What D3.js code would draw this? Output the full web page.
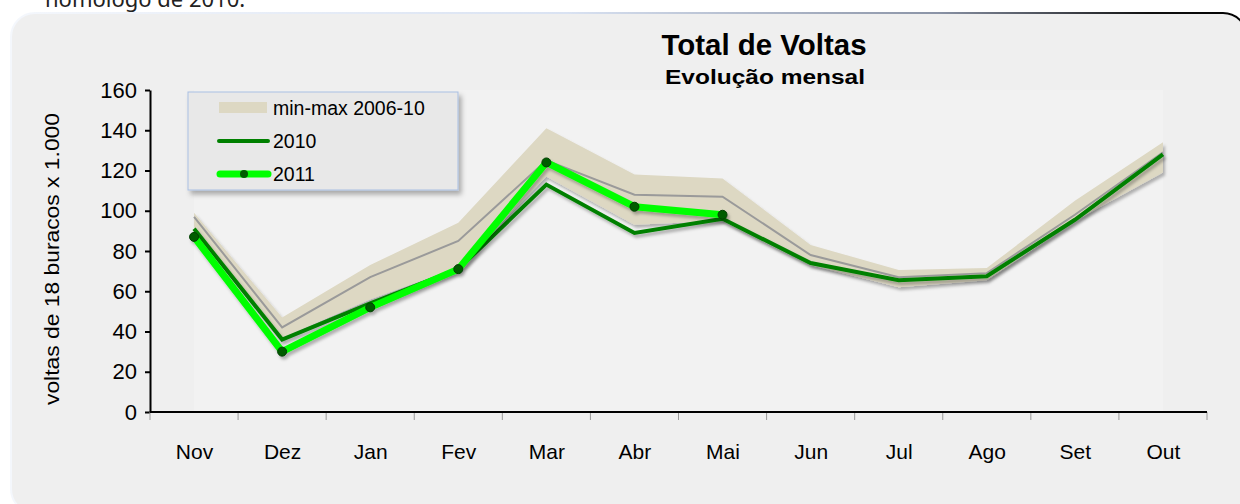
<!DOCTYPE html>
<html>
<head>
<meta charset="utf-8">
<script src="https://cdn.jsdelivr.net/npm/d3@7"></script>
<style>
  html, body { margin: 0; padding: 0; background: #fff; }
  svg { display: block; font-family: "Liberation Sans", Arial, sans-serif; }
</style>
</head>
<body>
<div class="chart"></div>
<script>
// meses (Nov 2010 -> Out 2011)
var months = ["Nov", "Dez", "Jan", "Fev", "Mar", "Abr", "Mai", "Jun", "Jul", "Ago", "Set", "Out"];
// faixa min-max 2006-10
var rangeMin = [91, 37, 56, 72, 117, 93, 95, 73, 62, 65.5, 95, 119];
var rangeMax = [99, 47, 73, 94, 141, 118, 116, 83, 70.5, 71.5, 105, 134];
// linha cinzenta (media)
var avgLine = [97, 42, 67, 85, 125, 108, 107, 78, 67, 69, 98, 129];
var v2010 = [91, 36, 54, 71, 113, 89, 96, 74, 65.5, 67.5, 95.5, 128];
var v2011 = [87, 30, 52, 71, 124, 102, 98];
var yTicks = [0, 20, 40, 60, 80, 100, 120, 140, 160];

var W = 1240, H = 504;
var margin = { top: 90, right: 33, bottom: 92, left: 150 };
var width = W - margin.left - margin.right, height = H - margin.top - margin.bottom;

var svg = d3.select(".chart").append("svg")
    .attr("width", W)
    .attr("height", H);

var defs = svg.append("defs");
var grad = defs.append("linearGradient").attr("id", "borderGrad")
    .attr("x1", "0%").attr("x2", "100%").attr("y1", "0%").attr("y2", "0%");
grad.append("stop").attr("offset", "0%").attr("stop-color", "#f4f7fc");
grad.append("stop").attr("offset", "45%").attr("stop-color", "#d9e2f2");
grad.append("stop").attr("offset", "75%").attr("stop-color", "#8a93a6");
grad.append("stop").attr("offset", "92%").attr("stop-color", "#111");
grad.append("stop").attr("offset", "100%").attr("stop-color", "#000");

var shadow = defs.append("filter").attr("id", "shadow")
    .attr("x", "-10%").attr("y", "-10%").attr("width", "130%").attr("height", "130%");
shadow.append("feDropShadow").attr("dx", 2).attr("dy", 3).attr("stdDeviation", 1.6)
    .attr("flood-color", "#000").attr("flood-opacity", 0.28);

var boxShadow = defs.append("filter").attr("id", "boxShadow")
    .attr("x", "-10%").attr("y", "-10%").attr("width", "130%").attr("height", "140%");
boxShadow.append("feDropShadow").attr("dx", 3).attr("dy", 4).attr("stdDeviation", 2.5)
    .attr("flood-color", "#000").attr("flood-opacity", 0.3);

// texto cortado no topo
svg.append("text")
    .attr("x", 45).attr("y", 7)
    .attr("font-family", "'Noto Sans', 'Open Sans', sans-serif")
    .attr("font-size", 22).attr("fill", "#222")
    .text("homólogo de 2010.");

// painel
svg.append("rect")
    .attr("x", 11).attr("y", 13)
    .attr("width", 1236).attr("height", 500)
    .attr("rx", 24)
    .attr("fill", "#efefef")
    .attr("stroke", "url(#borderGrad)")
    .attr("stroke-width", 2);

var g = svg.append("g")
    .attr("transform", "translate(" + margin.left + "," + margin.top + ")");

var x = d3.scalePoint().domain(months).range([0, width]).padding(0.5);
var xb = d3.scaleBand().domain(months).range([0, width]);
var y = d3.scaleLinear().domain([0, 160]).range([height, 0]);

// area de desenho
g.append("rect")
    .attr("x", x(months[0])).attr("y", 0)
    .attr("width", x(months[months.length - 1]) - x(months[0]))
    .attr("height", height)
    .attr("fill", "#f2f2f2");

// titulos
svg.append("text")
    .attr("x", 764).attr("y", 55)
    .attr("text-anchor", "middle")
    .attr("font-weight", "bold").attr("font-size", 29)
    .attr("textLength", 205).attr("lengthAdjust", "spacingAndGlyphs")
    .text("Total de Voltas");
svg.append("text")
    .attr("x", 765).attr("y", 84)
    .attr("text-anchor", "middle")
    .attr("font-weight", "bold").attr("font-size", 20)
    .attr("textLength", 200).attr("lengthAdjust", "spacingAndGlyphs")
    .text("Evolução mensal");

// eixo y
var yAxis = g.append("g")
    .call(d3.axisLeft(y).tickValues(yTicks).tickSize(5).tickSizeOuter(0).tickPadding(8));
yAxis.select(".domain").attr("stroke", "#000").attr("stroke-width", 2);
yAxis.selectAll(".tick line").attr("stroke", "#000").attr("stroke-width", 2);
yAxis.selectAll(".tick text").attr("font-size", 22).attr("fill", "#000")
    .attr("font-family", "'Liberation Sans', Arial, sans-serif");

svg.append("text")
    .attr("transform", "translate(59," + 259 + ") rotate(-90)")
    .attr("text-anchor", "middle")
    .attr("font-size", 20)
    .attr("textLength", 292).attr("lengthAdjust", "spacingAndGlyphs")
    .text("voltas de 18 buracos x 1.000");

// eixo x
var xAxis = g.append("g")
    .attr("transform", "translate(0," + height + ")")
    .call(d3.axisBottom(x).tickSize(0).tickSizeOuter(0));
xAxis.select(".domain").remove();
xAxis.selectAll(".tick text")
    .attr("y", 40).attr("dy", "0.35em")
    .attr("font-size", 21).attr("fill", "#000")
    .attr("font-family", "'Liberation Sans', Arial, sans-serif");

var bounds = months.map(function (m) { return xb(m); }).concat([width]);
xAxis.selectAll(".sep").data(bounds).enter().append("line")
    .attr("class", "sep")
    .attr("x1", function (d) { return d; }).attr("x2", function (d) { return d; })
    .attr("y1", 0).attr("y2", 8)
    .attr("stroke", "#999").attr("stroke-width", 1);
xAxis.append("line")
    .attr("x1", 0).attr("x2", width).attr("y1", 0).attr("y2", 0)
    .attr("stroke", "#000").attr("stroke-width", 2);

// faixa min-max
var area = d3.area()
    .x(function (d, i) { return x(months[i]); })
    .y0(function (d, i) { return y(rangeMin[i]); })
    .y1(function (d, i) { return y(rangeMax[i]); });
g.append("path")
    .datum(rangeMax)
    .attr("d", area)
    .attr("fill", "#ddd8c3")
    .attr("filter", "url(#shadow)");

var line = d3.line()
    .x(function (d, i) { return x(months[i]); })
    .y(function (d) { return y(d); });

g.append("path")
    .datum(avgLine)
    .attr("d", line)
    .attr("fill", "none")
    .attr("stroke", "#9a9a9a")
    .attr("stroke-width", 2);

g.append("path")
    .datum(v2010)
    .attr("d", line)
    .attr("fill", "none")
    .attr("stroke", "#008000")
    .attr("stroke-width", 4)
    .attr("filter", "url(#shadow)");

var g11 = g.append("g").attr("filter", "url(#shadow)");
g11.append("path")
    .datum(v2011)
    .attr("d", line)
    .attr("fill", "none")
    .attr("stroke", "#00ff00")
    .attr("stroke-width", 7)
    .attr("stroke-linejoin", "round");
g11.selectAll("circle").data(v2011).enter().append("circle")
    .attr("cx", function (d, i) { return x(months[i]); })
    .attr("cy", function (d) { return y(d); })
    .attr("r", 4.5)
    .attr("fill", "#005c00")
    .attr("stroke", "#004000")
    .attr("stroke-width", 1);

// legenda
var leg = svg.append("g").attr("transform", "translate(188,92)");
leg.append("rect")
    .attr("width", 270).attr("height", 98)
    .attr("fill", "#e8e8e8")
    .attr("stroke", "#a9bfe3").attr("stroke-width", 1)
    .attr("filter", "url(#boxShadow)");
leg.append("rect")
    .attr("x", 31).attr("y", 10).attr("width", 48).attr("height", 11)
    .attr("fill", "#ddd8c3");
leg.append("line")
    .attr("x1", 31).attr("x2", 80).attr("y1", 49).attr("y2", 49)
    .attr("stroke", "#008000").attr("stroke-width", 4).attr("stroke-linecap", "round");
leg.append("line")
    .attr("x1", 32).attr("x2", 80).attr("y1", 82).attr("y2", 82)
    .attr("stroke", "#00ff00").attr("stroke-width", 7).attr("stroke-linecap", "round");
leg.append("circle")
    .attr("cx", 56).attr("cy", 82).attr("r", 4)
    .attr("fill", "#005c00");
var legLabels = ["min-max 2006-10", "2010", "2011"];
leg.selectAll(".lab").data(legLabels).enter().append("text")
    .attr("class", "lab")
    .attr("x", 85)
    .attr("y", function (d, i) { return 16 + i * 33; })
    .attr("dy", "0.35em")
    .attr("font-size", 19.5)
    .attr("fill", "#000")
    .text(function (d) { return d; });
</script>
</body>
</html>
